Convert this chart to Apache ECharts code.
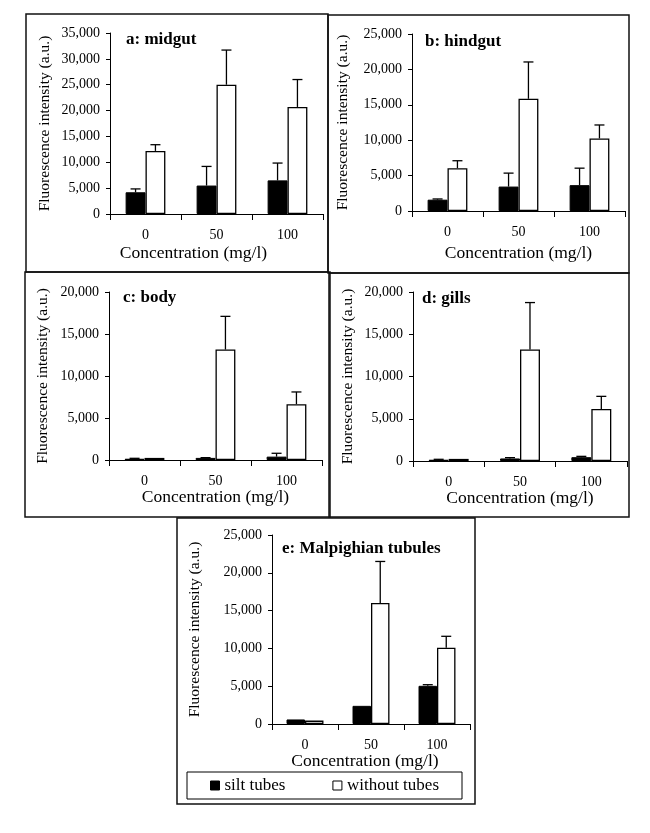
<!DOCTYPE html>
<html>
<head>
<meta charset="utf-8">
<script src="https://cdn.jsdelivr.net/npm/echarts@6/dist/echarts.min.js"></script>
<style>
html,body{margin:0;padding:0;background:#fff;}
#chart{width:650px;height:833px;}
</style>
</head>
<body>
<div id="chart"></div>
<script>
// ---------- data ----------
const categories = ['0', '50', '100'];

const midgutSilt = [4200, 5500, 6500];
const midgutSiltErr = [650, 3700, 3350];
const midgutWithout = [12200, 25000, 20700];
const midgutWithoutErr = [1200, 6700, 5300];

const hindgutSilt = [1600, 3450, 3650];
const hindgutSiltErr = [100, 1900, 2400];
const hindgutWithout = [6050, 15850, 10250];
const hindgutWithoutErr = [1050, 5200, 1900];

const bodySilt = [150, 250, 400];
const bodySiltErr = [50, 30, 400];
const bodyWithout = [250, 13150, 6650];
const bodyWithoutErr = [0, 3950, 1450];

const gillsSilt = [150, 300, 450];
const gillsSiltErr = [50, 100, 100];
const gillsWithout = [250, 13200, 6150];
const gillsWithoutErr = [0, 5550, 1500];

const malpSilt = [600, 2400, 5050];
const malpSiltErr = [0, 0, 150];
const malpWithout = [450, 16000, 10100];
const malpWithoutErr = [0, 5500, 1500];

const panelTitles = ['a: midgut', 'b: hindgut', 'c: body', 'd: gills', 'e: Malpighian tubules'];
const yMax = [35000, 25000, 20000, 20000, 25000];
const yInterval = 5000;
const seriesNames = ['silt tubes', 'without tubes'];
const xAxisTitle = 'Concentration (mg/l)';
const yAxisTitle = 'Fluorescence intensity (a.u.)';

// ---------- layout ----------
const FONT = '"Liberation Serif", "Times New Roman", serif';
const panelData = [
  [midgutSilt, midgutSiltErr, midgutWithout, midgutWithoutErr],
  [hindgutSilt, hindgutSiltErr, hindgutWithout, hindgutWithoutErr],
  [bodySilt, bodySiltErr, bodyWithout, bodyWithoutErr],
  [gillsSilt, gillsSiltErr, gillsWithout, gillsWithoutErr],
  [malpSilt, malpSiltErr, malpWithout, malpWithoutErr]
];
const grids = [
  {left: 110, top: 33, width: 213, height: 181},
  {left: 412, top: 34, width: 213, height: 177},
  {left: 109, top: 292, width: 213, height: 168},
  {left: 413, top: 292, width: 214, height: 169},
  {left: 272, top: 535, width: 198, height: 189}
];
const titlePos = [[126, 31], [425, 33], [123, 289], [422, 290], [282, 540]];
const yNameGap = [57, 61, 58, 57, 69];
const xNameGap = [30, 33, 28, 28, 25];
const xNameShift = [46, 0, 0, 0, 12];
const frames = [
  [26, 14, 302, 258], [328, 15, 301, 258], [25, 272, 305, 245],
  [329, 273, 300, 244], [177, 518, 298, 286]
];
const CAT_GAP = 0.44;

const fmt = v => v.toLocaleString('en-US');

function errSeries(i, vals, errs, side, name) {
  return {
    type: 'custom', name: name, xAxisIndex: i, yAxisIndex: i, z: 5,
    silent: true, legendHoverLink: false,
    data: categories.map((c, j) => [j, vals[j], errs[j]]),
    encode: {x: 0, y: 1},
    renderItem: function (params, api) {
      const j = api.value(0), v = api.value(1), e = api.value(2);
      if (!e) return null;
      const band = api.size([1, 0])[0];
      const bw = band * (1 - CAT_GAP) / 2;
      const p0 = api.coord([j, v]);
      const p1 = api.coord([j, v + e]);
      const x = p0[0] + side * bw / 2;
      const st = {stroke: '#000', lineWidth: 1.3};
      return {type: 'group', children: [
        {type: 'line', shape: {x1: x, y1: p0[1], x2: x, y2: p1[1]}, style: st},
        {type: 'line', shape: {x1: x - 5, y1: p1[1], x2: x + 5, y2: p1[1]}, style: st}
      ]};
    }
  };
}

const option = {
  backgroundColor: '#fff',
  animation: false,
  title: panelTitles.map((t, i) => ({
    text: t, left: titlePos[i][0], top: titlePos[i][1], padding: 0,
    textStyle: {fontFamily: FONT, fontSize: 17, fontWeight: 'bold', color: '#000'}
  })),
  grid: grids.map(g => Object.assign({containLabel: false, outerBoundsMode: 'none'}, g)),
  xAxis: grids.map((g, i) => ({
    type: 'category', gridIndex: i, data: categories,
    axisLine: {show: true, lineStyle: {color: '#000', width: 1}},
    axisTick: {show: true, length: 6, lineStyle: {color: '#000', width: 1}},
    axisLabel: {color: '#000', fontFamily: FONT, fontSize: 14, margin: 14},
    splitLine: {show: false},
    name: xAxisTitle, nameLocation: 'middle', nameGap: xNameGap[i],
    nameTextStyle: {color: '#000', fontFamily: FONT, fontSize: 17.5,
      padding: [0, xNameShift[i], 0, 0]}
  })),
  yAxis: grids.map((g, i) => ({
    type: 'value', gridIndex: i, min: 0, max: yMax[i], interval: yInterval,
    axisLine: {show: true, lineStyle: {color: '#000', width: 1}},
    axisTick: {show: true, length: 4, lineStyle: {color: '#000', width: 1}},
    axisLabel: {color: '#000', fontFamily: FONT, fontSize: 14, margin: 10, formatter: fmt},
    splitLine: {show: false},
    name: yAxisTitle, nameLocation: 'middle', nameGap: yNameGap[i], nameRotate: 90,
    nameTextStyle: {color: '#000', fontFamily: FONT, fontSize: 15.5}
  })),
  legend: {
    data: seriesNames,
    left: 187, top: 772,
    orient: 'horizontal',
    padding: [5, 23, 5, 23],
    itemGap: 47, itemWidth: 9, itemHeight: 9,
    icon: 'rect',
    borderColor: '#000', borderWidth: 1, borderRadius: 0,
    textStyle: {fontFamily: FONT, fontSize: 17, color: '#000'},
    itemStyle: {borderColor: '#000', borderWidth: 1}
  },
  graphic: frames.map(f => ({
    type: 'rect', silent: true, z: 100,
    shape: {x: f[0], y: f[1], width: f[2], height: f[3]},
    style: {fill: 'none', stroke: '#111', lineWidth: 1.5}
  })),
  series: []
};

panelData.forEach((d, i) => {
  option.series.push({
    type: 'bar', name: seriesNames[0], xAxisIndex: i, yAxisIndex: i,
    data: d[0], barGap: '0%', barCategoryGap: (CAT_GAP * 100) + '%',
    itemStyle: {color: '#000', borderColor: '#000', borderWidth: 1}
  });
  option.series.push({
    type: 'bar', name: seriesNames[1], xAxisIndex: i, yAxisIndex: i,
    data: d[2], barGap: '0%', barCategoryGap: (CAT_GAP * 100) + '%',
    itemStyle: {color: '#fff', borderColor: '#000', borderWidth: 1.3}
  });
  option.series.push(errSeries(i, d[0], d[1], -1, 'err-silt-' + i));
  option.series.push(errSeries(i, d[2], d[3], 1, 'err-without-' + i));
});

const chart = echarts.init(document.getElementById('chart'), null, {renderer: 'canvas'});
chart.setOption(option);
</script>
</body>
</html>
